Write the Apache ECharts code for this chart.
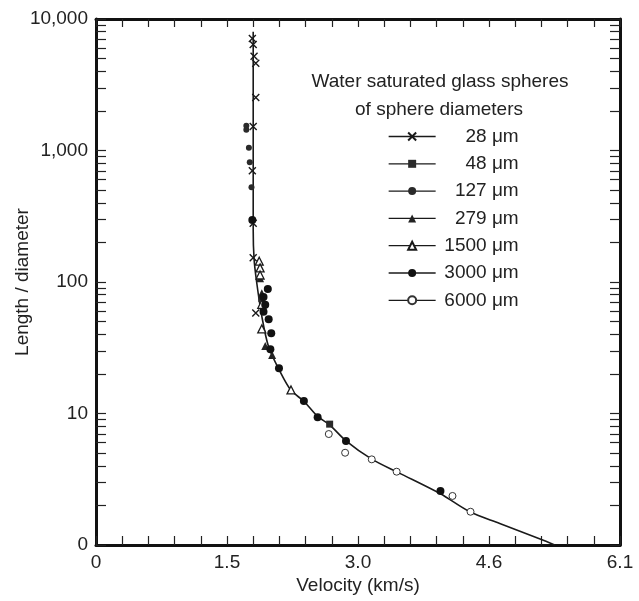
<!DOCTYPE html>
<html><head><meta charset="utf-8">
<script src="https://cdn.jsdelivr.net/npm/echarts@6/dist/echarts.min.js"></script>
<style>html,body{margin:0;padding:0;background:#fff}#c{width:639px;height:601px}</style>
</head><body><div id="c"></div>
<script>
// ---- data ----
const xTickLabels = ['0', '1.5', '3.0', '4.6', '6.1'];
const yTickValues = [1, 10, 100, 1000, 10000];
const yTickLabels = ['0', '10', '100', '1,000', '10,000'];
const seriesNames = ['28 μm', '48 μm', '127 μm', '279 μm', '1500 μm', '3000 μm', '6000 μm'];

const v28 = [1.82, 1.83, 1.84, 1.86, 1.86, 1.83, 1.82, 1.83, 1.83, 1.86];
const l28 = [7100, 6400, 5200, 4600, 2530, 1520, 700, 280, 153, 58];

const v48 = [1.93, 2.72];
const l48 = [75, 8.3];

const v127 = [1.75, 1.75, 1.78, 1.79, 1.81];
const l127 = [1540, 1440, 1050, 813, 525];

const v279 = [1.91, 1.93, 1.97, 2.05];
const l279 = [107, 82, 32.6, 27.9];

const v1500 = [1.90, 1.91, 1.91, 1.93, 1.93, 2.27];
const l1500 = [144, 128, 113, 67.7, 44, 15.1];

const v3000 = [1.82, 2.00, 1.95, 1.97, 1.95, 2.01, 2.04, 2.03, 2.13, 2.42, 2.58, 2.91, 4.01];
const l3000 = [296, 88.5, 77, 67, 59.5, 52, 40.7, 30.8, 22.1, 12.45, 9.35, 6.18, 2.57];

const v6000 = [2.71, 2.90, 3.21, 3.50, 4.15, 4.36];
const l6000 = [6.98, 5.03, 4.48, 3.61, 2.36, 1.79];

const curveV = [1.83, 1.83, 1.83, 1.84, 1.87, 1.93, 2.01, 2.14, 2.27, 2.42, 2.58, 2.72, 2.91, 3.21, 3.52, 4.01, 4.35, 4.70, 5.17, 5.34];
const curveL = [8000, 1000, 250, 150, 100, 55, 32, 21, 15, 12.4, 9.5, 8.2, 6.2, 4.5, 3.55, 2.45, 1.79, 1.46, 1.11, 1.0];

// ---- chart ----
const FONT = 'Liberation Sans, Arial, sans-serif';
const INK = '#1a1a1a';
const TXT = '#222';
const pairs = (xs, ys) => xs.map((x, i) => [x, ys[i]]);

const markerDefs = [
  { v: v28, l: l28, symbol: 'path://M0,0L10,10M10,0L0,10', size: 7,
    itemStyle: { color: 'rgba(0,0,0,0)', borderColor: INK, borderWidth: 1.4 } },
  { v: v48, l: l48, symbol: 'rect', size: 7, itemStyle: { color: '#2a2a2a' } },
  { v: v127, l: l127, symbol: 'circle', size: 6, itemStyle: { color: '#2a2a2a' } },
  { v: v279, l: l279, symbol: 'triangle', size: 8, itemStyle: { color: '#222' } },
  { v: v1500, l: l1500, symbol: 'triangle', size: 8,
    itemStyle: { color: '#fff', borderColor: INK, borderWidth: 1.3 } },
  { v: v3000, l: l3000, symbol: 'circle', size: 8, itemStyle: { color: '#111' } },
  { v: v6000, l: l6000, symbol: 'circle', size: 7,
    itemStyle: { color: '#fff', borderColor: '#333', borderWidth: 1 } }
];

const series = [{
  name: 'curve', type: 'line', data: pairs(curveV, curveL),
  showSymbol: false, smooth: 0.3, z: 2, silent: true,
  lineStyle: { color: INK, width: 1.6 }
}];
markerDefs.forEach((d, i) => {
  series.push({
    name: seriesNames[i], type: 'line', data: pairs(d.v, d.l),
    symbol: d.symbol, symbolSize: d.size, showSymbol: true, showAllSymbol: true,
    lineStyle: { opacity: 0 }, itemStyle: d.itemStyle, z: 3, silent: true
  });
});

const xLabelFmt = v => { const i = Math.round(v / 1.525); return xTickLabels[i] !== undefined ? xTickLabels[i] : ''; };
const yLabelFmt = v => { const i = yTickValues.findIndex(t => Math.abs(t - v) < 1e-6 * t); return i >= 0 ? yTickLabels[i] : ''; };

const axisLine = { show: true, onZero: false, lineStyle: { color: '#111', width: 3 } };
const tickStyle = { color: '#222', width: 1.2 };

const chart = echarts.init(document.getElementById('c'), null, { renderer: 'canvas' });
chart.setOption({
  animation: false,
  backgroundColor: '#fff',
  textStyle: { fontFamily: FONT },
  grid: { left: 96, top: 19, right: 19, bottom: 56, containLabel: false, outerBoundsMode: 'none' },
  xAxis: [{
    type: 'value', position: 'bottom', min: 0, max: 6.1, interval: 1.525,
    name: 'Velocity (km/s)', nameLocation: 'middle', nameGap: 31, nameMoveOverlap: false,
    nameTextStyle: { fontSize: 19, color: TXT, fontFamily: FONT },
    axisLine: axisLine,
    axisTick: { show: true, inside: true, length: 9, lineStyle: tickStyle },
    minorTick: { show: true, splitNumber: 5, length: 9, lineStyle: tickStyle },
    axisLabel: { formatter: xLabelFmt, fontSize: 19, color: TXT, margin: 8, fontFamily: FONT,
                 showMinLabel: true, showMaxLabel: true },
    splitLine: { show: false }, minorSplitLine: { show: false }
  }, {
    type: 'value', position: 'top', min: 0, max: 6.1, interval: 1.525,
    axisLine: axisLine,
    axisTick: { show: true, inside: true, length: 8, lineStyle: tickStyle },
    minorTick: { show: true, splitNumber: 5, length: 8, lineStyle: tickStyle },
    axisLabel: { show: false }, splitLine: { show: false }
  }],
  yAxis: [{
    type: 'log', logBase: 10, position: 'left', min: 1, max: 10000,
    name: 'Length / diameter', nameLocation: 'middle', nameGap: 64, nameRotate: 90, nameMoveOverlap: false,
    nameTextStyle: { fontSize: 19, color: TXT, fontFamily: FONT },
    axisLine: axisLine,
    axisTick: { show: true, inside: true, length: 10, lineStyle: tickStyle },
    minorTick: { show: true, splitNumber: 9, length: 10, lineStyle: tickStyle },
    axisLabel: { formatter: yLabelFmt, fontSize: 19, color: TXT, margin: 8, fontFamily: FONT,
                 showMinLabel: true, showMaxLabel: true },
    splitLine: { show: false }, minorSplitLine: { show: false }
  }, {
    type: 'log', logBase: 10, position: 'right', min: 1, max: 10000,
    axisLine: axisLine,
    axisTick: { show: true, inside: true, length: 10, lineStyle: tickStyle },
    minorTick: { show: true, splitNumber: 9, length: 10, lineStyle: tickStyle },
    axisLabel: { show: false }, splitLine: { show: false }
  }],
  legend: {
    orient: 'vertical', left: 388, top: 127, padding: 0,
    itemWidth: 47, itemHeight: 10, itemGap: 8.3,
    data: seriesNames,
    selectedMode: false,
    lineStyle: { color: INK, width: 1.3, opacity: 1, type: 'solid' },
    formatter: n => '{r|' + n + '}',
    textStyle: {
      rich: { r: { width: 78, align: 'right', fontSize: 19, lineHeight: 20, color: TXT, fontFamily: FONT } }
    }
  },
  graphic: [{
    type: 'text', x: 440, y: 82, silent: true,
    style: { text: 'Water saturated glass spheres', fill: TXT, font: '19px ' + FONT,
             textAlign: 'center', textVerticalAlign: 'middle' }
  }, {
    type: 'text', x: 439, y: 110, silent: true,
    style: { text: 'of sphere diameters', fill: TXT, font: '19px ' + FONT,
             textAlign: 'center', textVerticalAlign: 'middle' }
  }],
  series: series
});
</script></body></html>
